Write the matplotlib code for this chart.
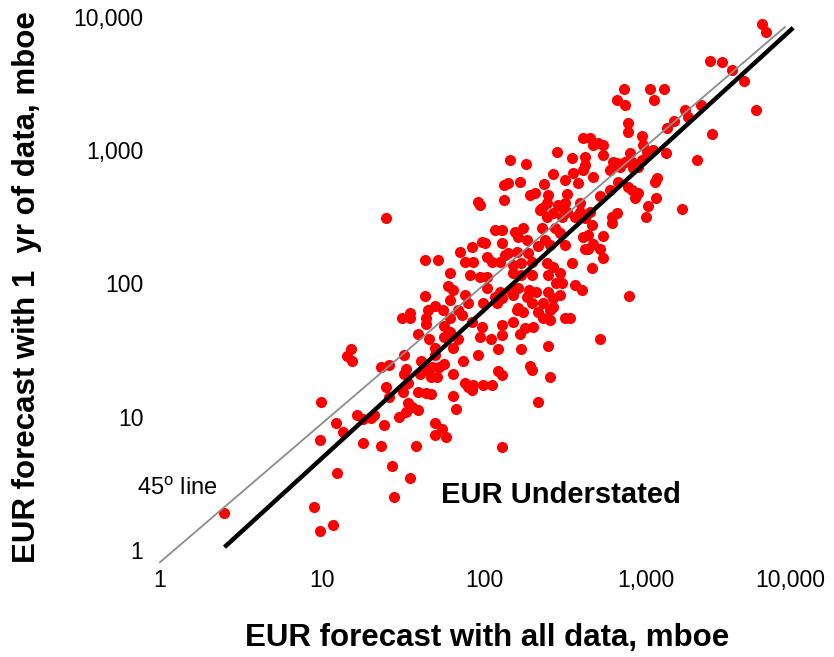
import matplotlib
matplotlib.use('Agg')
import matplotlib.pyplot as plt
from matplotlib.ticker import NullLocator
from matplotlib.transforms import ScaledTranslation

plt.rcParams['font.family'] = 'Liberation Sans'
plt.rcParams['mathtext.fontset'] = 'custom'
plt.rcParams['mathtext.rm'] = 'Liberation Sans'

# EUR forecast with all data (x) vs with 1 yr of data (y), mboe
eur_all = [
    2.5, 8.9, 9.7, 11.7, 12.3, 9.7, 9.9, 12.2, 13.5, 15, 14.3, 15.3, 16.5, 17.9,
    20, 21, 24, 18, 23, 27, 35, 28, 25, 26, 23, 26, 25,
    43, 52, 62, 60, 43, 62, 45, 50, 56, 31, 35, 35, 44, 44, 39, 57, 46, 50, 57,
    32, 50, 33, 32, 41, 44, 48, 53, 57, 40, 47, 51,
    31.5, 34, 39, 44, 47, 34, 36, 39, 33, 30, 38, 50, 55, 50, 58,
    64, 67, 84, 215, 130,
    76, 85, 82, 95, 104, 64, 104, 76, 80, 98, 69, 62, 73, 84, 97, 62, 69, 95,
    64, 92, 74, 64, 76, 85, 98, 80,
    92, 95, 71, 84, 97, 101, 104,
    145, 182, 282, 267, 316, 133, 140, 167, 235, 133, 192, 205, 248, 325, 316,
    307, 286, 245, 228, 245, 267, 303, 325, 222, 274, 228, 294, 117, 129, 155,
    174, 238, 316, 162, 184, 129, 215, 255, 141, 160, 187, 135,
    130, 150, 180, 200, 130, 167, 110, 122, 170, 250, 192, 198, 122, 130, 255, 112,
    112, 125, 150, 170, 198, 245, 266, 150, 170, 198, 250, 295, 305, 280, 125,
    145, 162, 190, 210, 250, 117, 130, 150, 185, 266, 295, 121, 162, 198, 232,
    266, 160, 175, 215, 255, 232, 255, 315,
    730, 1060, 1290, 660, 740, 1120, 775, 775, 945, 1350, 1490, 1740, 1820, 410,
    450, 470, 505, 545, 545, 420, 420, 350, 960, 1010, 1100, 945, 1330, 800, 820,
    890, 740, 660, 625, 600, 690, 830, 470, 410, 355, 380, 670, 775, 820, 600,
    1170, 1140, 520, 890, 855, 1150, 390, 450, 390, 660, 615, 1030, 1000, 365,
    420, 615, 465,
    410, 440, 545, 470, 420, 440, 520, 545, 350, 465, 365, 400, 785, 340, 520,
    5200, 5500, 2500, 2950, 3400, 4000, 2200, 4800, 2550, 2050, 1670,
]
eur_1yr = [
    1.9, 2.1, 1.4, 1.55, 3.8, 6.7, 13, 9, 7.7, 32, 28.5, 26, 10.3, 9.6,
    9.8, 10.3, 8.7, 6.4, 6.0, 4.3, 3.5, 2.5, 16.7, 14, 23.6, 24.5, 310,
    150, 150, 120, 95, 81, 75, 63, 68, 63, 55, 60, 55, 55, 50, 42, 48, 38, 33, 40,
    29, 29, 23, 21, 26, 22.5, 23.5, 23.5, 25, 21, 20, 20,
    15.3, 18, 15.3, 15, 14.8, 12.7, 11.8, 11.2, 10.9, 10, 6.0, 9, 8.1, 7.3, 7,
    14.3, 11.5, 15.9, 12.9, 5.9,
    145, 145, 116, 112, 112, 90, 93, 82, 71, 71, 63, 55, 58, 51, 47, 43, 38, 40,
    33, 29, 26, 21, 18, 17.3, 17.3, 16.7,
    410, 385, 173, 188, 205, 200, 158,
    850, 790, 970, 665, 600, 550, 565, 580, 560, 425, 460, 480, 460, 470, 400,
    370, 390, 400, 370, 316, 340, 316, 345, 357, 260, 260, 240, 253, 253, 244,
    261, 212, 195, 224, 212, 202, 192, 195, 170, 173, 170, 164,
    49, 51, 46, 47, 41, 42, 38, 32, 32, 34, 24, 22.5, 22, 20.5, 20, 17.3,
    145, 145, 138, 142, 145, 143, 133, 120, 116, 116, 116, 120, 101, 101, 87,
    90, 93, 90, 87, 87, 79, 78, 82, 79, 78, 82, 71, 66, 71, 71,
    67, 63, 61, 61, 63, 55, 53, 55,
    2900, 2900, 2900, 2400, 2200, 2400, 1600, 1370, 1280, 1470, 1660, 2000, 1780, 1240,
    1240, 1100, 1140, 1100, 920, 890, 780, 880, 1100, 970, 1000, 850, 950, 950, 820,
    750, 820, 800, 820, 710, 750, 740, 630, 712, 680, 570, 580, 530, 500, 500,
    620, 580, 450, 480, 440, 440, 400, 345, 345, 340, 315, 380, 315, 315,
    310, 285, 275,
    225, 230, 228, 198, 180, 180, 180, 156, 143, 131, 98, 90, 81, 55, 38,
    8900, 7700, 4700, 4600, 4000, 3300, 2200, 2000, 1330, 850, 360,
]

# 45 degree reference line and the fitted trend line
line45_x = [1, 7200]
line45_y = [0.81, 8400]
fit_x = [2.5, 8100]
fit_y = [1.05, 8300]

ticks = [1, 10, 100, 1000, 10000]
tick_labels = ['1', '10', '100', '1,000', '10,000']

fig = plt.figure(figsize=(8.34, 6.57), dpi=100)
ax = fig.add_axes([160 / 834, 1 - 550 / 657, 648 / 834, 533 / 657])
ax.set_xscale('log')
ax.set_yscale('log')
ax.set_xlim(1, 10000)
ax.set_ylim(1, 10000)

ax.scatter(eur_all, eur_1yr, s=64, color='#FF0000', linewidths=0, zorder=2, clip_on=False)
ax.plot(line45_x, line45_y, color='#8C8C8C', lw=1.3, zorder=3, clip_on=False)
ax.plot(fit_x, fit_y, color='black', lw=3.2, zorder=4, clip_on=False, solid_capstyle='butt')

# axes: no spines, no tick marks, Excel-style labels
for s in ax.spines.values():
    s.set_visible(False)
ax.set_xticks(ticks)
ax.set_xticklabels(tick_labels)
ax.set_yticks(ticks)
ax.set_yticklabels(tick_labels)
ax.xaxis.set_minor_locator(NullLocator())
ax.yaxis.set_minor_locator(NullLocator())
ax.tick_params(axis='both', length=0, labelsize=16.5, colors='black')
ax.tick_params(axis='x', pad=14)
ax.tick_params(axis='y', pad=12)

# last x label is pushed left so it fits inside the chart
last = ax.get_xticklabels()[-1]
last.set_transform(last.get_transform() + ScaledTranslation(-0.18, 0, fig.dpi_scale_trans))

ax.text(300, 2.6, 'EUR Understated', fontsize=21, fontweight='bold', ha='center', va='center')
ax.text(0.72, 2.87, r'45$^{\mathrm{o}}$ line', fontsize=17, ha='left', va='center')

fig.text(487 / 834, 1 - 638 / 657, 'EUR forecast with all data, mboe',
         fontsize=22.5, fontweight='bold', ha='center', va='center')
fig.text(27 / 834, 1 - 287 / 657, 'EUR forecast with 1  yr of data, mboe',
         fontsize=22.5, fontweight='bold', ha='center', va='center', rotation=90)

fig.savefig('out.png', dpi=100, facecolor='white')
